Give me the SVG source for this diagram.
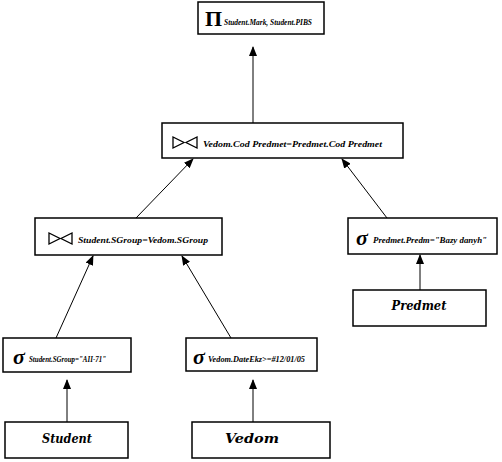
<svg xmlns="http://www.w3.org/2000/svg" width="502" height="462" viewBox="0 0 502 462">
<style>
.box{fill:#fff;stroke:#000;stroke-width:1.5}
.edge{stroke:#000;stroke-width:1;fill:none;marker-end:url(#ah)}
text{font-family:"Liberation Serif","Times New Roman","DejaVu Serif",serif;fill:#000}
.sub{font-weight:bold;font-style:italic;font-size:8px}
.sym{font-weight:bold;font-style:italic;font-size:22px}
.name{font-family:"DejaVu Serif",serif;font-weight:bold;font-style:italic;font-size:13px}
.tri{fill:none;stroke:#000;stroke-width:1.3}
</style>
<defs>
<marker id="ah" markerWidth="10" markerHeight="8" refX="9" refY="4" orient="auto" markerUnits="userSpaceOnUse">
<path d="M0,0 L10,4 L0,8 Z" fill="#000"/>
</marker>
</defs>
<rect width="502" height="462" fill="#fff"/>
<g id="connectors">
<line class="edge" x1="253" y1="123" x2="253" y2="47"/>
<line class="edge" x1="136" y1="218" x2="193" y2="159"/>
<line class="edge" x1="387" y1="218" x2="342" y2="159"/>
<line class="edge" x1="56" y1="338" x2="93" y2="256"/>
<line class="edge" x1="231" y1="338" x2="182" y2="256"/>
<line class="edge" x1="420" y1="290" x2="420" y2="255"/>
<line class="edge" x1="67" y1="422" x2="67" y2="380"/>
<line class="edge" x1="253" y1="422" x2="253" y2="380"/>
</g>
<g id="projection">
<rect class="box" x="198" y="2" width="126" height="32"/>
<text x="205" y="26" style="font-size:22px;font-weight:bold">Π</text>
<text class="sub" x="224" y="25" textLength="88" lengthAdjust="spacingAndGlyphs">Student.Mark, Student.PIBS</text>
</g>
<g id="join2">
<rect class="box" x="162" y="123" width="241" height="35"/>
<polygon class="tri" points="173,137 173,148 184,142.5"/>
<polygon class="tri" points="197,137 197,148 186,142.5"/>
<text class="sub" x="203" y="147" textLength="179" lengthAdjust="spacingAndGlyphs">Vedom.Cod Predmet=Predmet.Cod Predmet</text>
</g>
<g id="join1">
<rect class="box" x="35" y="218" width="187" height="37"/>
<polygon class="tri" points="49,233 49,244 60,238.5"/>
<polygon class="tri" points="72,233 72,244 61,238.5"/>
<text class="sub" x="78" y="243" textLength="130" lengthAdjust="spacingAndGlyphs">Student.SGroup=Vedom.SGroup</text>
</g>
<g id="selPredmet">
<rect class="box" x="348" y="218" width="149" height="36"/>
<text class="sym" x="356" y="245">σ</text>
<text class="sub" x="373" y="243" textLength="114" lengthAdjust="spacingAndGlyphs">Predmet.Predm="Bazy danyh"</text>
</g>
<g id="selStudent">
<rect class="box" x="3" y="338" width="128" height="34"/>
<text class="sym" x="13" y="364">σ</text>
<text class="sub" x="29" y="362" textLength="77" lengthAdjust="spacingAndGlyphs">Student.SGroup="AII-71"</text>
</g>
<g id="selVedom">
<rect class="box" x="186" y="338" width="131" height="33"/>
<text class="sym" x="193" y="364">σ</text>
<text class="sub" x="208" y="362" textLength="97" lengthAdjust="spacingAndGlyphs">Vedom.DateEkz&gt;=#12/01/05</text>
</g>
<g id="student">
<rect class="box" x="5" y="422" width="123" height="36"/>
<text class="name" x="67" y="443" text-anchor="middle" textLength="50" lengthAdjust="spacingAndGlyphs">Student</text>
</g>
<g id="vedom">
<rect class="box" x="192" y="422" width="138" height="36"/>
<text class="name" x="252" y="443" text-anchor="middle" textLength="54" lengthAdjust="spacingAndGlyphs">Vedom</text>
</g>
<g id="predmet">
<rect class="box" x="353" y="290" width="133" height="36"/>
<text class="name" x="419" y="310" text-anchor="middle" textLength="55" lengthAdjust="spacingAndGlyphs">Predmet</text>
</g>
</svg>
